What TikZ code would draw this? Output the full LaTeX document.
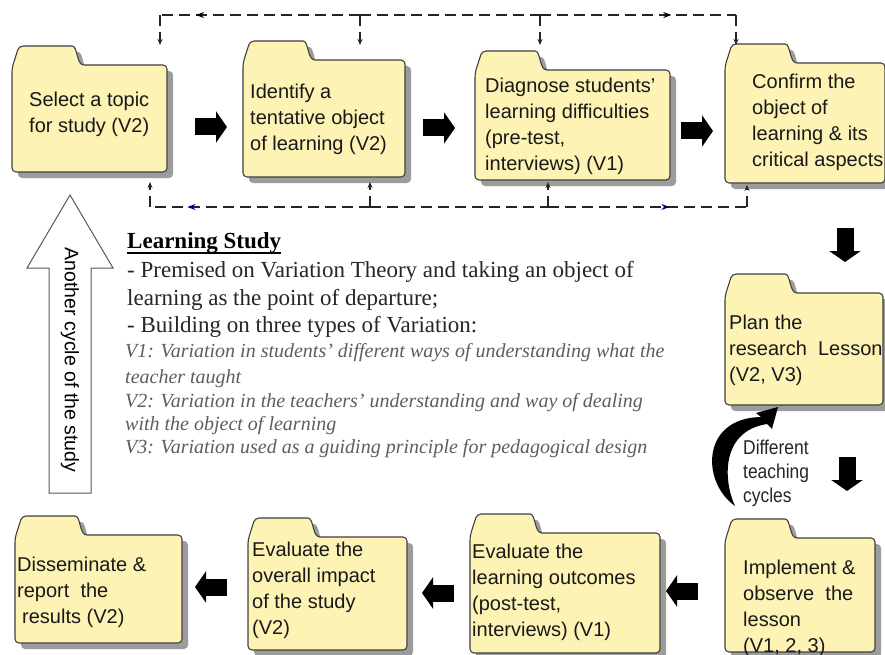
\documentclass[tikz,border=0pt]{standalone}
\usepackage{fontspec}
\setmainfont{Liberation Serif}
\setsansfont{Liberation Sans}
\newfontfamily\narrowsans{Liberation Sans}[FakeStretch=0.87]
\usetikzlibrary{calc,arrows.meta,decorations.markings}

\definecolor{folderyellow}{HTML}{FDF3B4}
\definecolor{foldershadow}{HTML}{9C9C9C}
\definecolor{notegray}{HTML}{5E5E5E}

% folder outline: body from the node, tab on its upper left
\newcommand{\folderpath}[1]{%
  (#1.south west) -- ($(#1.north west)+(0,3)$) -- ($(#1.north west)+(7,-19)$) -- ($(#1.north west)+(56,-19)$)
  .. controls ($(#1.north west)+(66,-19)$) and ($(#1.north west)+(64,0)$) .. ($(#1.north west)+(76,0)$)
  -- (#1.north east) -- (#1.south east) -- cycle}

\tikzset{
  folder/.style={inner sep=0pt,outer sep=0pt},
  ftext/.style={anchor=west,align=left,inner sep=0pt,text=black!90,font=\sffamily\fontsize{20}{26}\selectfont},
  bigarrow/.style={line width=17pt,-{Triangle[width=31pt,length=11pt]}},
  dashline/.style={line width=1.8pt,dash pattern=on 11pt off 6pt,black!85},
  dropto/.style={-{Stealth[length=6pt,width=5pt]}},
  midarrow/.style 2 args={postaction={decorate,decoration={markings,
      mark=at position #1 with {\arrow{Stealth[length=8pt,width=6pt,color=#2]}}}}},
  study/.style={anchor=base west,inner sep=0pt},
}

\begin{document}
\begin{tikzpicture}[x=1pt,y=-1pt]
  \useasboundingbox (0,0) rectangle (885,655);
  \clip (0,0) rectangle (885,655);
  \fill[white] (0,0) rectangle (885,655);

  % folders
  \foreach \nm/\xa/\ya/\xb/\yb in {f1/12/65/167/172, f2/243/60/405/177, f3/475/70/670/180,
      f4/725/63/885/183, f5/725/293/883/405, f6/725/538/875/652, f7/470/533/660/653,
      f8/248/537/407/650, f9/15/535/182/643}
    \node[folder,minimum width=\xb-\xa,minimum height=\yb-\ya] (\nm) at ({(\xa+\xb)/2},{(\ya+\yb)/2}) {};
  \foreach \k in {1,...,9}{
    \fill[foldershadow,rounded corners=4pt,transform canvas={xshift=6pt,yshift=-6pt}] \folderpath{f\k};
    \filldraw[fill=folderyellow,draw=black!75,line width=1.1pt,rounded corners=4pt] \folderpath{f\k};
  }

  \node[ftext] (txt1) at ($(f1.west)+(17,-4)$) {Select a topic\\for study (V2)};
  \node[ftext] (txt2) at ($(f2.west)+(7,1)$) {Identify a\\tentative object\\of learning (V2)};
  \node[ftext] (txt3) at ($(f3.west)+(10,1)$) {Diagnose students'\\learning difficulties\\(pre-test,\\interviews) (V1)};
  \node[ftext] (txt4) at ($(f4.west)+(27,-1)$) {Confirm the\\object of\\learning \& its\\critical aspects};
  \node[ftext] (txt5) at ($(f5.west)+(4,1)$) {Plan the\\research\ \ Lesson\\(V2, V3)};
  \node[ftext] (txt6) at ($(f6.west)+(18,13)$) {Implement \&\\observe\ \ the\\lesson\\(V1, 2, 3)};
  \node[ftext] (txt7) at ($(f7.west)+(2,-1)$) {Evaluate the\\learning outcomes\\(post-test,\\interviews) (V1)};
  \node[ftext] (txt8) at ($(f8.west)+(4,-3)$) {Evaluate the\\overall impact\\of the study\\(V2)};
  \node[ftext] (txt9) at ($(f9.west)+(2,3)$) {Disseminate \&\\report\ \ the\\\hspace*{5pt}results (V2)};

  % block arrows
  \coordinate (a1) at (211,127);
  \coordinate (a2) at (439,128);
  \coordinate (a3) at (697,131);
  \coordinate (a4) at (845,245);
  \coordinate (a5) at (847,474);
  \coordinate (a6) at (682,591);
  \coordinate (a7) at (438,593);
  \coordinate (a8) at (211,587);
  \foreach \k in {1,2,3} \draw[bigarrow] ([xshift=-16pt]a\k) -- ([xshift=16pt]a\k);
  \foreach \k in {4,5} \draw[bigarrow] ([yshift=17pt]a\k) -- ([yshift=-17pt]a\k);
  \foreach \k in {6,7,8} \draw[bigarrow] ([xshift=16pt]a\k) -- ([xshift=-16pt]a\k);

  % dashed feedback lines
  \coordinate (up1) at (160,15);
  \coordinate (up2) at (360,15);
  \coordinate (up3) at (540,15);
  \coordinate (up4) at (736,15);
  \coordinate (lo1) at (150,207);
  \coordinate (lo2) at (370,207);
  \coordinate (lo3) at (548,207);
  \coordinate (lo4) at (747,207);
  \draw[dashline,midarrow={0.82}{black}] (up2) -- (up1);
  \draw[dashline] (up2) -- (up3);
  \draw[dashline,midarrow={0.67}{black}] (up3) -- (up4);
  \draw[dashline,dropto,shorten >=20pt] (up1) -- (up1 |- f1.north);
  \draw[dashline,dropto,shorten >=15pt] (up2) -- (up2 |- f2.north);
  \draw[dashline,dropto,shorten >=25pt] (up3) -- (up3 |- f3.north);
  \draw[dashline,dropto,shorten >=18pt] (up4) -- (up4 |- f4.north);
  \draw[dashline,midarrow={0.83}{blue!55!black}] (lo2) -- (lo1);
  \draw[dashline] (lo2) -- (lo3);
  \draw[dashline,midarrow={0.61}{blue!40!black}] (lo3) -- (lo4);
  \draw[dashline,dropto,shorten >=10pt] (lo1) -- (lo1 |- f1.south);
  \draw[dashline,dropto,shorten >=5pt] (lo2) -- (lo2 |- f2.south);
  \draw[dashline,dropto,shorten >=2pt] (lo3) -- (lo3 |- f3.south);
  \draw[dashline,dropto,shorten >=2pt] (lo4) -- (lo4 |- f4.south);

  % another cycle
  \filldraw[fill=white,draw=black!65,line width=1pt] (70,195) -- (113,268) -- (91,268) -- (91,493)
    -- (49,493) -- (49,268) -- (27,268) -- cycle;
  \node[rotate=-90,inner sep=0pt,font=\sffamily\fontsize{19.5}{19.5}\selectfont] (again) at (70,360) {Another cycle of the study};

  % teaching cycles
  \fill[black] (735,506) .. controls (701,482) and (701,418) .. (761,417) -- (756,413) -- (778,407)
    -- (772,429) -- (767,424) .. controls (721,431) and (723,480) .. (735,506) -- cycle;
  \node[anchor=north west,align=left,inner sep=0pt,text=black!85,font=\narrowsans\fontsize{20}{24}\selectfont]
    (cyc) at (743,440) {Different\\teaching\\cycles};

  % learning study text
  \node[study,font=\bfseries\fontsize{23}{28}\selectfont] (head) at (127,248) {Learning Study};
  \draw[line width=1.3pt] ([yshift=-5pt]head.base west) -- ([yshift=-5pt]head.base east);
  \node[study,text=black!85,font=\fontsize{23}{28}\selectfont] (l1) at (127,277) {- Premised on Variation Theory and taking an object of};
  \node[study,text=black!85,font=\fontsize{23}{28}\selectfont] (l2) at (127,305) {learning as the point of departure;};
  \node[study,text=black!85,font=\fontsize{23}{28}\selectfont] (l3) at (127,332) {- Building on three types of Variation:};
  \node[study,text=notegray,font=\itshape\fontsize{20}{24}\selectfont] (l4) at (125,357) {V1: Variation in students' different ways of understanding what the};
  \node[study,text=notegray,font=\itshape\fontsize{20}{24}\selectfont] (l5) at (125,383) {teacher taught};
  \node[study,text=notegray,font=\itshape\fontsize{20}{24}\selectfont] (l6) at (125,407) {V2: Variation in the teachers' understanding and way of dealing};
  \node[study,text=notegray,font=\itshape\fontsize{20}{24}\selectfont] (l7) at (125,430) {with the object of learning};
  \node[study,text=notegray,font=\itshape\fontsize{20}{24}\selectfont] (l8) at (125,453) {V3: Variation used as a guiding principle for pedagogical design};
\end{tikzpicture}
\end{document}
